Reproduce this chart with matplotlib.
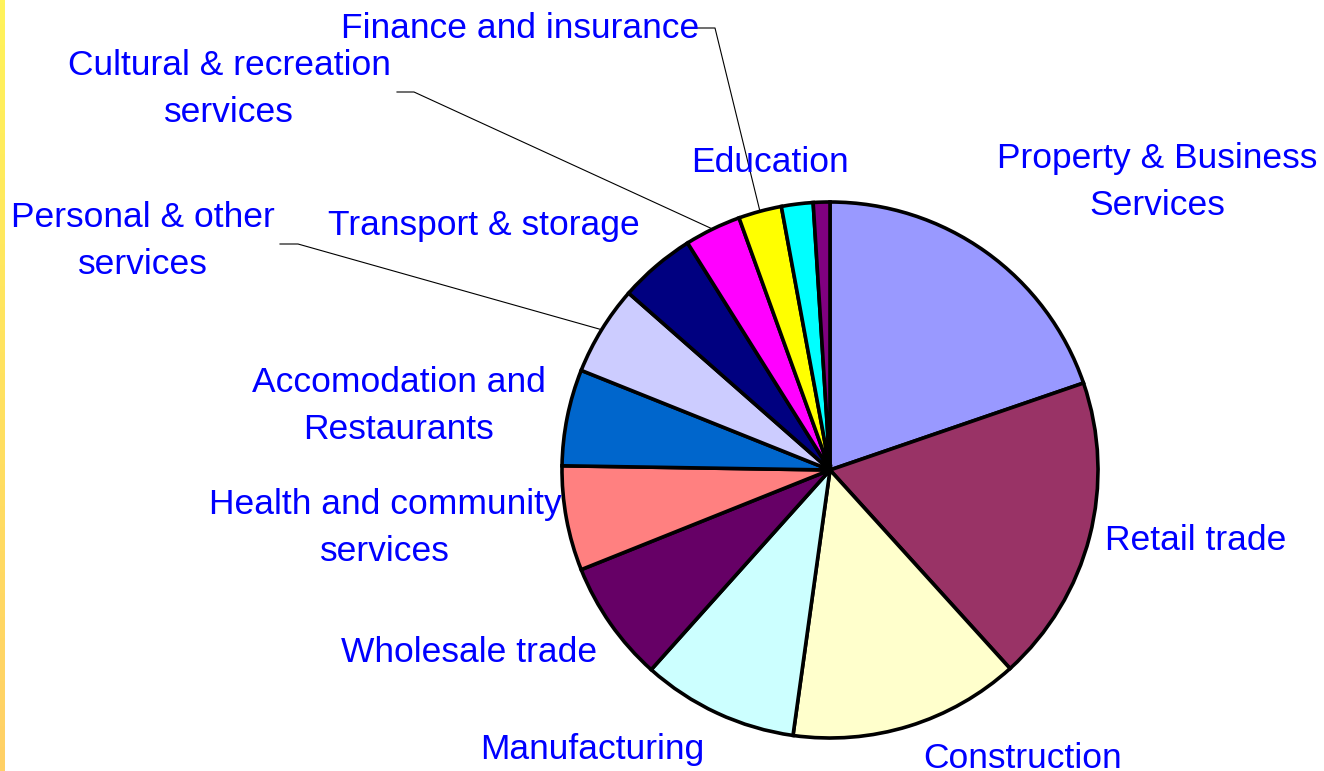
import matplotlib
matplotlib.use('Agg')
import matplotlib.pyplot as plt
import numpy as np

plt.rcParams['font.family'] = ['Liberation Sans', 'DejaVu Sans']

# industry shares (%), clockwise from 12 o'clock
sectors = ['Property & Business\nServices', 'Retail trade', 'Construction',
           'Manufacturing', 'Wholesale trade', 'Health and community\nservices',
           'Accomodation and\nRestaurants', 'Personal & other\nservices',
           'Transport & storage', 'Cultural & recreation\nservices',
           'Finance and insurance', 'Education', '']
shares = [19.7, 18.5, 13.9, 9.4, 7.3, 6.3, 5.8, 5.4, 4.6, 3.4, 2.6, 1.9, 1.0]
colors = ['#9999FF', '#993366', '#FFFFCC', '#CCFFFF', '#660066', '#FF8080',
          '#0066CC', '#CCCCFF', '#000080', '#FF00FF', '#FFFF00', '#00FFFF',
          '#800080']

W, H = 1324, 771
fig = plt.figure(figsize=(W / 100, H / 100), dpi=100)
ax = fig.add_axes([0, 0, 1, 1])

cx, cy, R = 830, H - 470, 268
ax.pie(shares, colors=colors, startangle=90, counterclock=False,
       center=(cx, cy), radius=R,
       wedgeprops=dict(edgecolor='black', linewidth=2.6))
ax.set_xlim(0, W)
ax.set_ylim(0, H)
ax.set_aspect('auto')
ax.axis('off')

# label positions in pixels (x centre, y centre from top)
label_pos = {
    'Property & Business\nServices': (1157, 182),
    'Retail trade': (1196, 540),
    'Construction': (1023, 758),
    'Manufacturing': (592, 749),
    'Wholesale trade': (469, 652),
    'Health and community\nservices': (385, 528),
    'Accomodation and\nRestaurants': (399, 406),
    'Personal & other\nservices': (143, 241),
    'Transport & storage': (484, 226),
    'Cultural & recreation\nservices': (229, 89),
    'Finance and insurance': (520, 29),
    'Education': (770, 163),
}
for name, (px, py) in label_pos.items():
    ax.text(px, H - py, name, color='#0000FF', fontsize=25.5, ha='center',
            va='center', multialignment='center', linespacing=1.52)

# leader lines: from label elbow to the wedge rim at its mid angle
cum = np.cumsum([0] + shares)
total = cum[-1]
leaders = {
    'Finance and insurance': [(695, 28), (715, 28)],
    'Cultural & recreation\nservices': [(397, 92), (414, 92)],
    'Personal & other\nservices': [(280, 244), (298, 244)],
}
for name, pts in leaders.items():
    i = sectors.index(name)
    mid = (cum[i] + cum[i + 1]) / 2 / total * 360
    theta = np.deg2rad(90 - mid)
    ex, ey = cx + R * np.cos(theta), cy + R * np.sin(theta)
    xs = [p[0] for p in pts] + [ex]
    ys = [H - p[1] for p in pts] + [ey]
    ax.plot(xs, ys, color='black', linewidth=0.8)

# yellow gradient strip on the left edge
strip = fig.add_axes([0, 0, 5 / W, 1])
grad = np.linspace(0, 1, 256).reshape(-1, 1)
cmap = matplotlib.colors.LinearSegmentedColormap.from_list('strip', ['#FFF35A', '#FFD066'])
strip.imshow(grad, aspect='auto', cmap=cmap)
strip.axis('off')

fig.savefig('out.png', dpi=100)
